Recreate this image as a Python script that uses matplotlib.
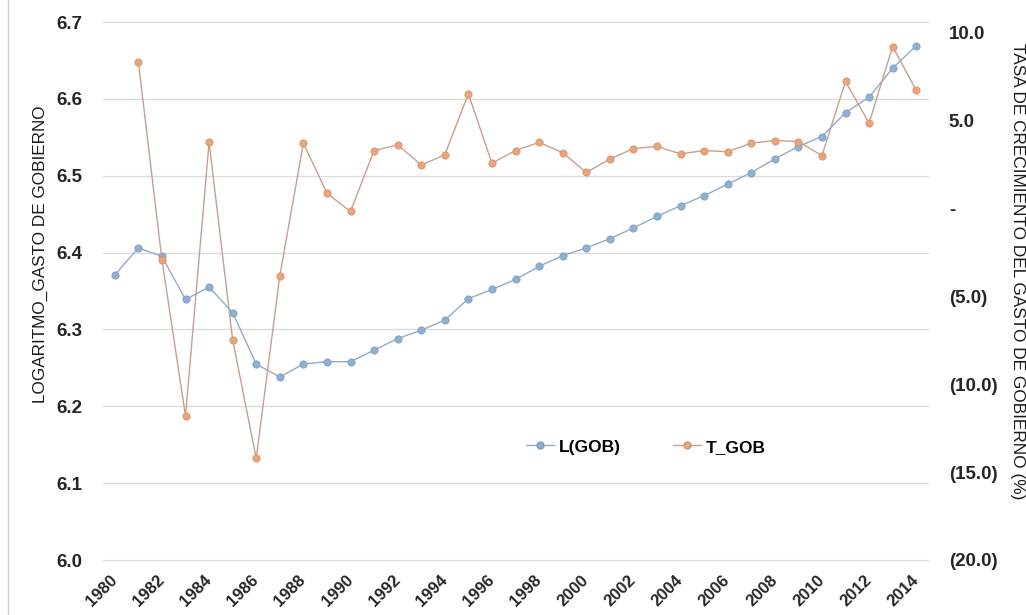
import matplotlib
matplotlib.use("Agg")
import matplotlib.pyplot as plt
from matplotlib.ticker import FixedLocator, FuncFormatter
from matplotlib.lines import Line2D

years = list(range(1980, 2015))

# Logarithm of government spending (left axis)
l_gob = [6.371, 6.406, 6.395, 6.339, 6.355, 6.322, 6.255, 6.238, 6.255, 6.258,
         6.258, 6.273, 6.288, 6.299, 6.312, 6.340, 6.352, 6.365, 6.382, 6.396,
         6.406, 6.418, 6.432, 6.447, 6.461, 6.474, 6.489, 6.504, 6.522, 6.538,
         6.551, 6.582, 6.602, 6.640, 6.669]

# Growth rate of government spending, % (right axis); no value for 1980
t_gob = [None, 8.36, -2.92, -11.8, 3.79, -7.47, -14.21, -3.83, 3.73, 0.88,
         -0.16, 3.31, 3.63, 2.49, 3.06, 6.54, 2.59, 3.31, 3.77, 3.19,
         2.06, 2.82, 3.42, 3.54, 3.12, 3.31, 3.24, 3.73, 3.88, 3.82,
         3.02, 7.24, 4.87, 9.23, 6.73]

left_ticks = [6.0, 6.1, 6.2, 6.3, 6.4, 6.5, 6.6, 6.7]
right_ticks = [-20, -15, -10, -5, 0, 5, 10]
year_labels = [str(y) for y in years[::2]]

BLUE = "#8fb0d2"
BLUE_LINE = "#93abc6"
ORANGE = "#e9a57c"
ORANGE_LINE = "#c9a08a"
GRID = "#dcdcdc"
FONT = "Liberation Sans"

plt.rcParams["font.family"] = [FONT, "DejaVu Sans"]

fig = plt.figure(figsize=(10.26, 6.15), dpi=100)
ax = fig.add_axes([103 / 1026, 1 - 560 / 615, 825 / 1026, 538 / 615])
ax2 = ax.twinx()

x = list(range(len(years)))

ax.plot(x, l_gob, color=BLUE_LINE, lw=1.0, marker="o", ms=5.2,
        mfc=BLUE, mec="#7f9fc2", mew=0.6, zorder=3, label="L(GOB)")
tx = [i for i, v in zip(x, t_gob) if v is not None]
tv = [v for v in t_gob if v is not None]
ax2.plot(tx, tv, color=ORANGE_LINE, lw=1.0, marker="o", ms=5.2,
         mfc=ORANGE, mec="#d99368", mew=0.6, zorder=3, label="T_GOB")

# Left axis
ax.set_xlim(-0.5, len(years) - 0.5)
ax.set_ylim(6.0, 6.7)
ax.yaxis.set_major_locator(FixedLocator(left_ticks))
ax.yaxis.set_major_formatter(FuncFormatter(lambda v, p: f"{v:.1f}"))
for yv in left_ticks:
    ax.axhline(yv, color=GRID, lw=1.0, zorder=0, clip_on=False)

# Right axis (accounting-style labels)
ax2.set_ylim(-20, 10.626)
ax2.yaxis.set_major_locator(FixedLocator(right_ticks))

def acct(v, p):
    if abs(v) < 1e-9:
        return "-"
    if v < 0:
        return f"({abs(v):.1f})"
    return f"{v:.1f}"

ax2.yaxis.set_major_formatter(FuncFormatter(acct))

ax.xaxis.set_major_locator(FixedLocator(x[::2]))
ax.set_xticklabels(year_labels)

for a in (ax, ax2):
    for s in a.spines.values():
        s.set_visible(False)

ax.tick_params(axis="x", length=0, pad=13, labelsize=12, colors="#262626")
ax.tick_params(axis="y", length=0, pad=15, labelsize=13.5, colors="#262626")
ax2.tick_params(axis="y", length=0, pad=15, labelsize=13.5, colors="#262626")
for lbl in ax.get_xticklabels():
    lbl.set_rotation(45)
    lbl.set_ha("right")
    lbl.set_va("center")
    lbl.set_rotation_mode("anchor")
    lbl.set_fontweight("bold")
for lbl in ax.get_yticklabels() + ax2.get_yticklabels():
    lbl.set_fontweight("bold")

fig.text(40 / 1026, 1 - 254 / 615, "LOGARITMO_GASTO DE GOBIERNO",
         rotation=90, ha="center", va="center", fontsize=12.3, color="#1a1a1a")
fig.text(1017 / 1026, 1 - 271 / 615, "TASA DE CRECIMIENTO DEL GASTO DE GOBIERNO (%)",
         rotation=270, ha="center", va="center", fontsize=12.4, color="#1a1a1a")

handles = [
    Line2D([], [], color=BLUE_LINE, lw=1.0, marker="o", ms=5, mfc=BLUE, mec="#7f9fc2"),
    Line2D([], [], color=ORANGE_LINE, lw=1.0, marker="o", ms=5, mfc=ORANGE, mec="#d99368"),
]
leg = ax.legend(handles, ["L(GOB)", "T_GOB"], ncol=2, frameon=False,
                loc="center left", bbox_to_anchor=((526 - 103) / 825, (560 - 447) / 538),
                borderaxespad=0, borderpad=0, handlelength=1.6, handletextpad=0.3,
                columnspacing=3.0, prop={"family": FONT, "weight": "bold", "size": 12.5})

# Chart-area border on the left edge
fig.add_artist(Line2D([8 / 1026, 8 / 1026], [0, 1], color="#d0d0d0", lw=1.0,
                      transform=fig.transFigure))

fig.savefig("out.png", dpi=100, facecolor="white")
